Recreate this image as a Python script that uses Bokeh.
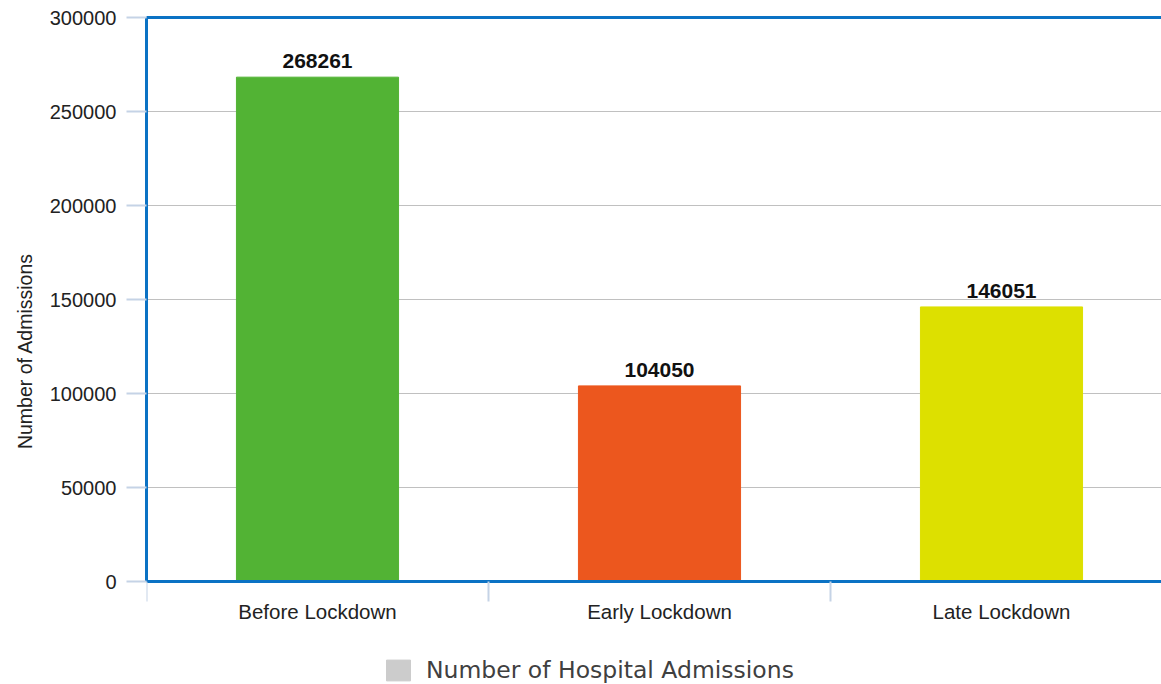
from bokeh.plotting import figure
from bokeh.models import (Range1d, LinearAxis, FixedTicker, BasicTickFormatter,
                          Legend, LegendItem, ColumnDataSource)
from bokeh.core.properties import value
from bokeh.embed import file_html
from bokeh.resources import INLINE

categories = ["Before Lockdown", "Early Lockdown", "Late Lockdown"]
admissions = [268261, 104050, 146051]
bar_colors = ["#52b334", "#ec571e", "#dde000"]
y_ticks = [0, 50000, 100000, 150000, 200000, 250000, 300000]
series_name = "Number of Hospital Admissions"
y_title = "Number of Admissions"

BLUE = "#0b72c4"
TICK = "#c5d3e6"
TEXT = "#222222"
FONT = "Liberation Sans"

n = len(categories)
xs = [i + 0.5 for i in range(n)]
frame_w = 1018
cat_px = 342
data_h = 564          # pixel height of the 0..300000 band
extra_h = 103         # room below zero for the category labels and legend
y_max = y_ticks[-1]
y_min = -extra_h / data_h * y_max

p = figure(frame_width=frame_w, frame_height=data_h + extra_h,
           x_range=Range1d(0, frame_w / cat_px), y_range=Range1d(y_min, y_max),
           output_backend="svg", toolbar_location=None,
           title=y_title, title_location="left",
           min_border_left=143, min_border_right=0, min_border_top=17,
           min_border_bottom=0)
p.outline_line_color = None
p.background_fill_color = "white"
p.border_fill_color = "white"

# vertical axis title
p.title.align = "center"
p.title.standoff = 22
p.title.text_font = FONT
p.title.text_font_size = "19.5px"
p.title.text_font_style = "normal"
p.title.text_color = TEXT

src = ColumnDataSource(dict(x=xs, top=admissions, color=bar_colors,
                            label=[str(v) for v in admissions]))
p.vbar(x="x", top="top", bottom=0, width=0.474, color="color", source=src)
p.text(x="x", y="top", text="label", source=src, text_align="center",
       text_baseline="alphabetic", y_offset=-16, text_font=value(FONT),
       text_font_size="21px", text_font_style="bold", text_color="#111111")

# grid
p.xgrid.grid_line_color = None
p.ygrid.grid_line_color = "#c0c0c0"
p.ygrid.grid_line_width = 1
p.ygrid.ticker = FixedTicker(ticks=y_ticks)

# y axis
ya = p.yaxis[0]
ya.ticker = FixedTicker(ticks=y_ticks)
ya.bounds = (0, y_max)
ya.formatter = BasicTickFormatter(use_scientific=False)
ya.axis_line_color = BLUE
ya.axis_line_width = 3
ya.major_tick_line_color = TICK
ya.major_tick_line_width = 2
ya.major_tick_out = 20
ya.major_tick_in = 0
ya.minor_tick_line_color = None
ya.major_label_standoff = 10
ya.major_label_text_font = FONT
ya.major_label_text_font_size = "20px"
ya.major_label_text_color = TEXT

# x axis: boundary ticks, drawn at y = 0
bounds = list(range(n + 1))
xa = p.xaxis[0]
xa.fixed_location = 0
xa.ticker = FixedTicker(ticks=bounds)
xa.major_label_overrides = {b: "" for b in bounds}
xa.axis_line_color = BLUE
xa.axis_line_width = 3
xa.major_tick_line_color = TICK
xa.major_tick_line_width = 2
xa.major_tick_out = 20
xa.major_tick_in = 0
xa.minor_tick_line_color = None
xa.major_label_standoff = 0

# x axis: category labels, drawn at y = 0
xl = LinearAxis(ticker=FixedTicker(ticks=xs), fixed_location=0,
                major_label_overrides={x: c for x, c in zip(xs, categories)})
xl.axis_line_color = None
xl.major_tick_line_color = None
xl.minor_tick_line_color = None
xl.major_label_standoff = 12
xl.major_label_text_font = FONT
xl.major_label_text_font_size = "20.5px"
xl.major_label_text_color = TEXT
p.add_layout(xl, "below")

# top border
top = LinearAxis(ticker=FixedTicker(ticks=[]))
top.axis_line_color = BLUE
top.axis_line_width = 3
top.major_tick_line_color = None
top.minor_tick_line_color = None
p.add_layout(top, "above")

# legend (its renderer holds one zero-height bar outside the visible x range)
dummy = p.vbar(x=[-1], top=[0], bottom=0, width=0.5, color="#cccccc")
legend = Legend(items=[LegendItem(label=series_name, renderers=[dummy])],
                location=(237, 0), orientation="horizontal",
                glyph_width=30, glyph_height=26, label_standoff=13,
                label_text_font="DejaVu Sans", label_text_font_size="23.5px",
                label_text_color="#404040", border_line_color=None,
                background_fill_alpha=0, padding=0, margin=0)
p.add_layout(legend, "center")

open("out.html", "w").write(file_html(p, INLINE))
